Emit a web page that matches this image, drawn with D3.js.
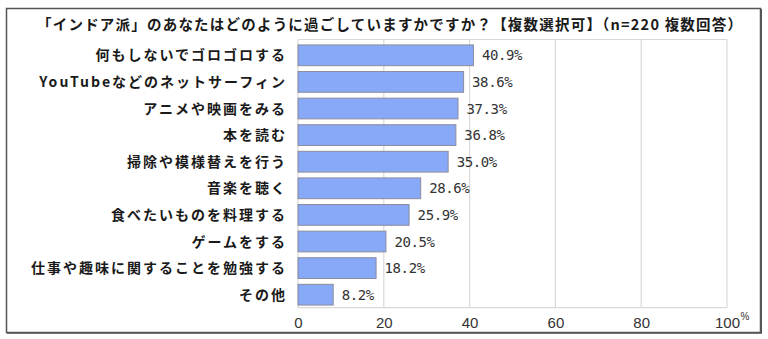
<!DOCTYPE html>
<html><head><meta charset="utf-8">
<script src="https://cdn.jsdelivr.net/npm/d3@7"></script>
<style>body{margin:0;background:#fff}svg{display:block}</style>
</head><body>
<script>
const categories = ["何もしないでゴロゴロする","YouTubeなどのネットサーフィン","アニメや映画をみる","本を読む","掃除や模様替えを行う","音楽を聴く","食べたいものを料理する","ゲームをする","仕事や趣味に関することを勉強する","その他"];
const values = [40.9,38.6,37.3,36.8,35.0,28.6,25.9,20.5,18.2,8.2];
const ticks = [0,20,40,60,80,100];
const title = "「インドア派」のあなたはどのように過ごしていますかですか？【複数選択可】（n=220 複数回答）";

(function(){
const W=768,H=339;
const svg=d3.select("body").append("svg").attr("width",W).attr("height",H);
svg.append("rect").attr("width",W).attr("height",H).attr("fill","#fff");
// frame
svg.append("rect").attr("x",6.5).attr("y",8.5).attr("width",754).attr("height",324)
  .attr("fill","none").attr("stroke","#555").attr("stroke-width",1.5);
svg.append("line").attr("x1",7).attr("x2",762).attr("y1",333).attr("y2",333).attr("stroke","#555").attr("stroke-width",1.5);
svg.append("line").attr("x1",761.5).attr("x2",761.5).attr("y1",9).attr("y2",333).attr("stroke","#555").attr("stroke-width",1);

const x=d3.scaleLinear().domain([0,100]).range([298,727]);
const y=d3.scaleBand().domain(categories).range([42,308]).paddingInner(0.22).paddingOuter(0.11);
const plotTop=39.5,plotBot=307.7;

// gridlines
svg.append("g").selectAll("line").data(ticks).join("line")
  .attr("x1",d=>x(d)).attr("x2",d=>x(d)).attr("y1",plotTop).attr("y2",plotBot)
  .attr("stroke","#d9d9d9").attr("stroke-width",1.2);
svg.append("line").attr("x1",x(0)).attr("x2",x(100)).attr("y1",plotTop).attr("y2",plotTop).attr("stroke","#d9d9d9").attr("stroke-width",1.2);
svg.append("line").attr("x1",x(0)).attr("x2",x(100)).attr("y1",plotBot).attr("y2",plotBot).attr("stroke","#d9d9d9").attr("stroke-width",1.2);

// bars
svg.append("g").selectAll("rect").data(values).join("rect")
  .attr("x",x(0)).attr("y",(d,i)=>y(categories[i]))
  .attr("width",d=>x(d)-x(0)).attr("height",y.bandwidth())
  .attr("fill","#87a9f8").attr("stroke","#8c8c9c").attr("stroke-width",1);

// value labels
svg.append("g").selectAll("text").data(values).join("text")
  .attr("x",d=>x(d)+8.5).attr("y",(d,i)=>y(categories[i])+y.bandwidth()/2+5)
  .attr("font-family","DejaVu Sans Mono, monospace").attr("font-size",14).attr("letter-spacing","-0.4px").attr("fill","#333")
  .text(d=>d.toFixed(1)+"%");

// category labels
svg.append("g").selectAll("text").data(categories).join("text")
  .attr("x",287).attr("y",d=>y(d)+y.bandwidth()/2+5)
  .attr("text-anchor","end")
  .attr("font-family","'Noto Sans CJK JP', sans-serif").attr("font-weight","bold")
  .attr("font-size",14).attr("letter-spacing","2px").attr("fill","#1a1a1a")
  .text(d=>d);

// x axis tick labels
const ax=svg.append("g").attr("transform",`translate(0,${plotBot})`)
  .call(d3.axisBottom(x).tickValues(ticks).tickSize(0).tickPadding(10).tickFormat(d3.format("d")));
ax.select(".domain").remove();
ax.selectAll("text").attr("font-family","Liberation Sans, Arial, sans-serif").attr("font-size",15).attr("fill","#333");
svg.append("text").attr("x",745).attr("y",320).attr("text-anchor","middle")
  .attr("font-family","Liberation Sans, Arial, sans-serif").attr("font-size",10).attr("fill","#333").text("%");

// title
svg.append("text").attr("x",37).attr("y",29.5)
  .attr("font-family","'Noto Sans CJK JP', sans-serif").attr("font-weight","bold")
  .attr("font-size",14.5).attr("fill","#1a1a1a")
  .attr("textLength",705).attr("lengthAdjust","spacing")
  .text(title);
})();
</script>
</body></html>
